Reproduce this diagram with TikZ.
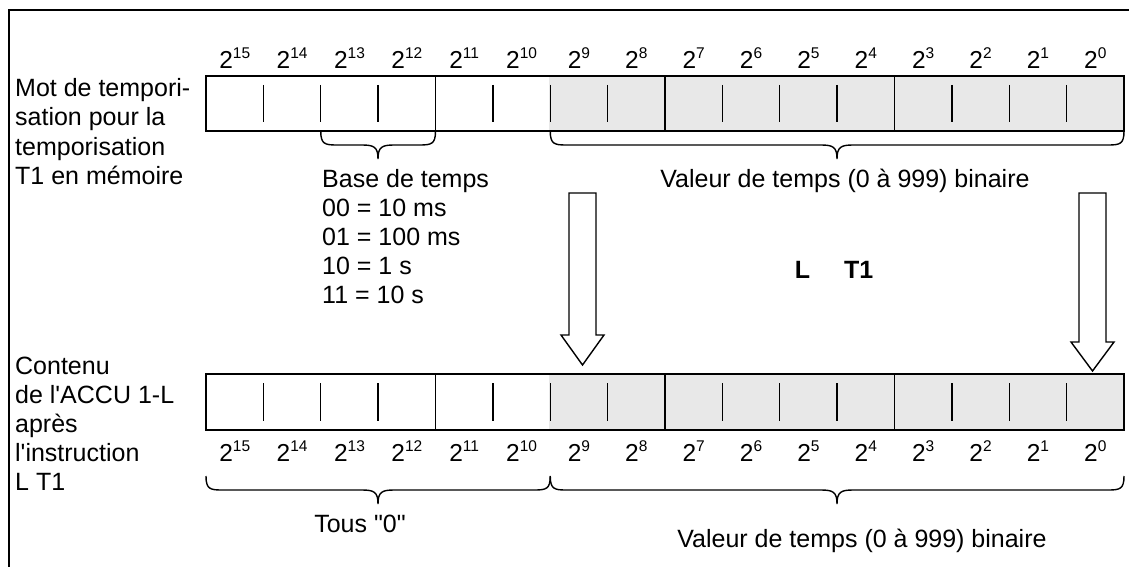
\documentclass[tikz,border=0pt]{standalone}
\usepackage{fontspec}
\newfontfamily\af{Liberation Sans}
\newcommand{\hbrace}[4]{% x1, x2, xtip, ytop
  \draw[bracesty] (#1,#4) .. controls (#1,#4+13) and (#1+4,#4+14) .. (#1+16,#4+14)
    -- (#3-16,#4+14) .. controls (#3-4,#4+14) and (#3,#4+16) .. (#3,#4+28)
    .. controls (#3,#4+16) and (#3+4,#4+14) .. (#3+16,#4+14)
    -- (#2-16,#4+14) .. controls (#2-4,#4+14) and (#2,#4+13) .. (#2,#4);}
\newcommand{\pw}[1]{2\raisebox{10pt}{\fontsize{15.5}{15.5}\selectfont #1}}
\begin{document}
\begin{tikzpicture}[x=1pt,y=-1pt,font=\af,
  frame/.style={line width=1.5pt},
  reg/.style={line width=1.5pt},
  tk/.style={line width=1.4pt},
  bracesty/.style={line width=1.4pt},
  arrsty/.style={line width=1.4pt,fill=white,line join=miter},
  greyfill/.style={fill=black!9},
  txt/.style={font=\af\fontsize{25}{29}\selectfont,anchor=base west,inner sep=0},
  ctxt/.style={font=\af\fontsize{25}{29}\selectfont,anchor=base,inner sep=0},
  lbl/.style={font=\af\fontsize{24.5}{26}\selectfont,anchor=base,inner sep=0}]
\useasboundingbox (0,0) rectangle (1129,567);
% frame
\draw[frame] (9,600) -- (9,10) -- (1140,10);
% registers
\foreach \yt/\yb in {76/131,374/430}{
  \fill[greyfill] (549,\yt) rectangle (1124,\yb);
  \draw[reg] (206,\yt) rectangle (1124,\yb);
  \foreach \i in {4,8,12}{\draw[reg] ({206+57.375*\i},\yt) -- ({206+57.375*\i},\yb);}
  \foreach \i in {1,2,3,5,6,7,9,10,11,13,14,15}{\draw[tk] ({206+57.375*\i},\yt+9) -- ({206+57.375*\i},\yb-9);}
}
% bit labels
\foreach \i in {0,...,15}{
  \pgfmathtruncatemacro{\e}{15-\i}
  \node[lbl] (tl\i) at ({206+57.375*(\i+0.5)},69) {\pw{\e}};
  \node[lbl] (bl\i) at ({206+57.375*(\i+0.5)},461) {\pw{\e}};
}
% left texts
\node[txt] (m1) at (15,97) {Mot de tempori-};
\node[txt] (m2) at (15,126) {sation pour la};
\node[txt] (m3) at (15,155) {temporisation};
\node[txt] (m4) at (15,184) {T1 en mémoire};
\node[txt] (c1) at (15,374) {Contenu};
\node[txt] (c2) at (15,403) {de l\char"27 ACCU 1-L};
\node[txt] (c3) at (15,432) {après};
\node[txt] (c4) at (15,461) {l\char"27 instruction};
\node[txt] (c5) at (15,490) {L T1};
% braces
\hbrace{320.75}{435.5}{378}{131}
\hbrace{550.25}{1124}{837}{131}
\hbrace{206}{550.25}{378}{476}
\hbrace{550.25}{1124}{837}{476}
% base de temps
\node[txt] (b1) at (322,187) {Base de temps};
\node[txt] (b2) at (322,216) {00 = 10 ms};
\node[txt] (b3) at (322,245) {01 = 100 ms};
\node[txt] (b4) at (322,274) {10 = 1 s};
\node[txt] (b5) at (322,303) {11 = 10 s};
\node[ctxt] (v1) at (845,187) {Valeur de temps (0 à 999) binaire};
\node[ctxt] (v2) at (862,547) {Valeur de temps (0 à 999) binaire};
\node[ctxt] (tous) at (360,532) {Tous "0"};
\node[ctxt] (lt1) at (834,278) {\bfseries L\hspace{34pt}T1};
% arrows
\draw[arrsty] (569,193) -- (596,193) -- (596,335) -- (604,335) -- (582.5,365) -- (561,335) -- (569,335) -- cycle;
\draw[arrsty] (1079,193) -- (1106,193) -- (1106,342) -- (1114,342) -- (1092.5,371) -- (1071,342) -- (1079,342) -- cycle;
\end{tikzpicture}
\end{document}
